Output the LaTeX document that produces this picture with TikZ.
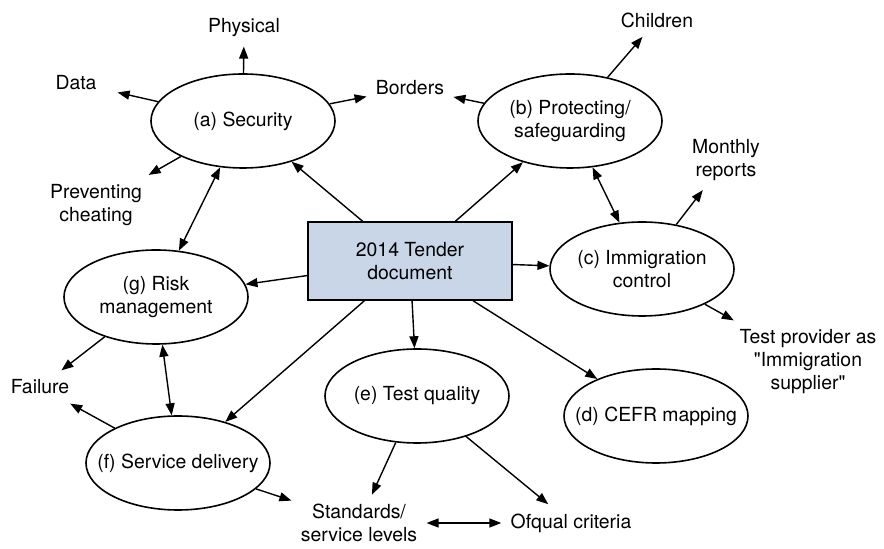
\documentclass[tikz,border=0pt]{standalone}
\usepackage{fontspec}
\setmainfont[Ligatures=TeXOff]{TeX Gyre Heros}
\usetikzlibrary{shapes.geometric,arrows.meta}
\definecolor{tenderblue}{RGB}{200,214,232}
\begin{document}
\begin{tikzpicture}[x=0.5pt,y=-0.5pt,
    every node/.style={font=\fontsize{9.7}{11.5}\selectfont, align=center},
    topic/.style={draw, ellipse, line width=0.8pt, minimum width=92pt, minimum height=47pt, inner xsep=-8pt, inner ysep=0pt},
    lbl/.style={inner sep=4.5pt},
    arr/.style={-{Triangle[length=6pt,width=4.5pt]}, line width=0.7pt},
    darr/.style={{Triangle[length=6pt,width=4.5pt]}-{Triangle[length=6pt,width=4.5pt]}, line width=0.7pt}]
    \useasboundingbox (0,0) rectangle (884,549);
    % centre
    \node[draw, fill=tenderblue, line width=0.8pt, minimum width=102pt, minimum height=39pt, inner sep=0pt] (tender) at (410,261) {2014 Tender\\document};
    % topics
    \node[topic] (sec)   at (243,121) {(a) Security};
    \node[topic] (prot)  at (570,121) {(b) Protecting/\\safeguarding};
    \node[topic] (immig) at (642,269) {(c) Immigration\\control};
    \node[topic] (cefr)  at (656,416) {(d) CEFR mapping};
    \node[topic] (qual)  at (417,396) {(e) Test quality};
    \node[topic] (serv)  at (178,463) {(f) Service delivery};
    \node[topic] (risk)  at (156,297) {(g) Risk\\management};
    % labels
    \node[lbl] (phys)    at (244,28)  {Physical};
    \node[lbl] (data)    at (76,83)   {Data};
    \node[lbl] (cheat)   at (96,205)  {Preventing\\cheating};
    \node[lbl] (borders) at (410,88)  {Borders};
    \node[lbl] (child)   at (657,20)  {Children};
    \node[lbl] (monthly) at (726,160) {Monthly\\reports};
    \node[lbl] (supplier) at (808,362) {Test provider as\\"Immigration\\supplier"};
    \node[lbl] (fail)    at (40,387)  {Failure};
    \node[lbl] (stand)   at (359,523) {Standards/\\service levels};
    \node[lbl] (ofqual)  at (571,523) {Ofqual criteria};
    % from the tender document
    \draw[arr] (tender) -- (sec);
    \draw[arr] (tender) -- (prot);
    \draw[arr] (tender) -- (immig);
    \draw[arr] (tender) -- (cefr);
    \draw[arr] (tender) -- (qual);
    \draw[arr] (tender) -- (serv);
    \draw[arr] (tender) -- (risk);
    % between topics
    \draw[darr] (sec) -- (risk);
    \draw[darr] (prot) -- (immig);
    \draw[darr] (risk) -- (serv);
    \draw[darr] (stand) -- (ofqual);
    % to the labels
    \draw[arr] (sec) -- (phys);
    \draw[arr, shorten >=6pt] (sec) -- (data);
    \draw[arr] (sec) -- (cheat);
    \draw[arr] (sec) -- (borders);
    \draw[arr] (prot) -- (borders);
    \draw[arr] (prot) -- (child);
    \draw[arr] (immig) -- (monthly);
    \draw[arr] (immig) -- (supplier);
    \draw[arr] (risk) -- (fail);
    \draw[arr] (serv) -- (fail);
    \draw[arr] (serv) -- (stand);
    \draw[arr] (qual) -- (stand);
    \draw[arr] (qual) -- (ofqual);
\end{tikzpicture}
\end{document}
